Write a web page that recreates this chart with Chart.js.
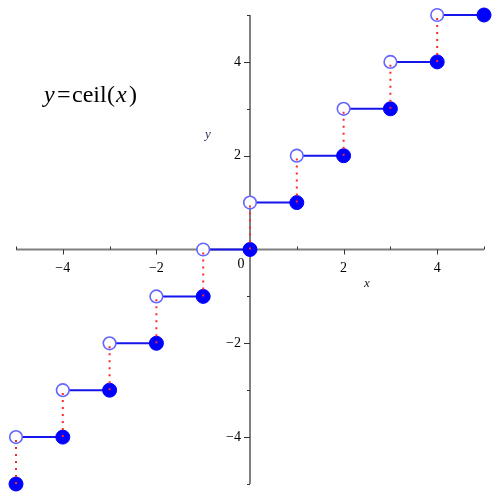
<!DOCTYPE html>
<html>
<head>
<meta charset="utf-8">
<script src="https://cdn.jsdelivr.net/npm/chart.js@4.4.0/dist/chart.umd.min.js"></script>
<style>
  html, body { margin: 0; padding: 0; background: #fff; }
  canvas { display: block; }
</style>
</head>
<body>
<canvas id="grafico" width="500" height="500"></canvas>
<script>
// ************************* DATOS *************************
// Puntos cerrados (valor incluido) de y = ceil(x)
const cerradosX = [-5, -4, -3, -2, -1, 0, 1, 2, 3, 4, 5];
const cerradosY = [-5, -4, -3, -2, -1, 0, 1, 2, 3, 4, 5];
// Puntos abiertos (valor excluido)
const abiertosX = [-5, -4, -3, -2, -1, 0, 1, 2, 3, 4];
const abiertosY = [-4, -3, -2, -1, 0, 1, 2, 3, 4, 5];
// Etiquetas de los ejes
const ticksX = [-4, -2, 0, 2, 4];
const ticksY = [-4, -2, 2, 4];
const marcasMenores = [-5, -3, -1, 1, 3, 5];

const AZUL = "rgb(20,20,235)";
const SERIF = "'Liberation Serif', 'DejaVu Serif', serif";

// ************************* DATASETS *************************
const datasets = [];

// Líneas rojas punteadas (encima de todo)
for (let i = 0; i < abiertosX.length; i++) {
  datasets.push({
    data: [
      { x: cerradosX[i], y: cerradosY[i] },
      { x: abiertosX[i], y: abiertosY[i] },
    ],
    showLine: true,
    clip: false,
    borderColor: "rgb(255,40,40)",
    borderWidth: 2,
    borderDash: [2, 5],
    pointRadius: 0,
  });
}

// Puntos cerrados
datasets.push({
  data: cerradosX.map((x, i) => ({ x: x, y: cerradosY[i] })),
  showLine: false,
  clip: false,
  pointRadius: 7,
  backgroundColor: "rgb(0,0,255)",
  borderColor: "rgb(0,0,255)",
  borderWidth: 1,
});

// Puntos abiertos
datasets.push({
  data: abiertosX.map((x, i) => ({ x: x, y: abiertosY[i] })),
  showLine: false,
  clip: false,
  pointRadius: 6.3,
  backgroundColor: "#ffffff",
  borderColor: "rgb(100,100,255)",
  borderWidth: 1.6,
});

// Escalones horizontales: del punto abierto i al cerrado i+1
for (let i = 0; i < abiertosX.length; i++) {
  datasets.push({
    data: [
      { x: abiertosX[i], y: abiertosY[i] },
      { x: cerradosX[i + 1], y: cerradosY[i + 1] },
    ],
    showLine: true,
    clip: false,
    borderColor: AZUL,
    borderWidth: 2,
    pointRadius: 0,
  });
}

// ************************* EJES *************************
const ejes = {
  id: "ejes",
  beforeDatasetsDraw(chart) {
    const ctx = chart.ctx;
    const sx = chart.scales.x;
    const sy = chart.scales.y;
    const x0 = sx.getPixelForValue(0);
    const y0 = sy.getPixelForValue(0);

    ctx.save();
    ctx.strokeStyle = "#808080";
    ctx.lineWidth = 2;
    ctx.beginPath();
    ctx.moveTo(sx.getPixelForValue(-5), y0);
    ctx.lineTo(sx.getPixelForValue(5), y0);
    ctx.moveTo(x0, sy.getPixelForValue(5));
    ctx.lineTo(x0, sy.getPixelForValue(-5));
    ctx.stroke();

    // marcas
    ctx.strokeStyle = "#333";
    ctx.lineWidth = 1;
    ctx.beginPath();
    ticksX.concat(marcasMenores).forEach(function (v) {
      if (v === 0) return;
      const px = Math.round(sx.getPixelForValue(v)) + 0.5;
      if (marcasMenores.includes(v)) {
        ctx.moveTo(px, y0 - 3);
        ctx.lineTo(px, y0);
      } else {
        ctx.moveTo(px, y0);
        ctx.lineTo(px, y0 + 5);
      }
    });
    ticksY.concat(marcasMenores).forEach(function (v) {
      const py = Math.round(sy.getPixelForValue(v)) + 0.5;
      if (marcasMenores.includes(v)) {
        ctx.moveTo(x0 - 3, py);
        ctx.lineTo(x0, py);
      } else {
        ctx.moveTo(x0 - 6, py);
        ctx.lineTo(x0, py);
      }
    });
    ctx.stroke();

    // etiquetas
    ctx.fillStyle = "#000";
    ctx.font = "14px " + SERIF;
    ctx.textBaseline = "middle";
    ctx.textAlign = "center";
    ticksX.forEach(function (v) {
      const txt = v < 0 ? "\u2212" + Math.abs(v) : String(v);
      if (v === 0) {
        ctx.fillText(txt, x0 - 9, y0 + 15);
      } else {
        ctx.fillText(txt, sx.getPixelForValue(v), y0 + 19);
      }
    });
    ctx.textAlign = "right";
    ticksY.forEach(function (v) {
      const txt = v < 0 ? "\u2212" + Math.abs(v) : String(v);
      ctx.fillText(txt, x0 - 9, sy.getPixelForValue(v));
    });

    // nombres de ejes
    ctx.font = "italic 13px " + SERIF;
    ctx.textAlign = "center";
    ctx.fillStyle = "#222";
    ctx.fillText("x", x0 + 117, y0 + 34);
    ctx.fillStyle = "#3a2a5a";
    ctx.fillText("y", x0 - 42, y0 - 115);
    ctx.restore();
  },
  afterDraw(chart) {
    const ctx = chart.ctx;
    ctx.save();
    ctx.fillStyle = "#000";
    ctx.textBaseline = "alphabetic";
    ctx.textAlign = "left";
    const base = 102;
    ctx.font = "italic 24px " + SERIF;
    ctx.fillText("y", 44, base);
    ctx.font = "24px " + SERIF;
    ctx.fillText("=", 57, base);
    ctx.fillText("ceil", 72, base);
    ctx.fillText("(", 107, base);
    ctx.font = "italic 24px " + SERIF;
    ctx.fillText("x", 116, base);
    ctx.font = "24px " + SERIF;
    ctx.fillText(")", 129, base);
    ctx.restore();
  },
};

// ************************* GRÁFICO *************************
new Chart(document.getElementById("grafico"), {
  type: "scatter",
  data: { datasets: datasets },
  options: {
    responsive: false,
    animation: false,
    layout: { padding: { left: 16, right: 16, top: 15, bottom: 16 } },
    plugins: { legend: { display: false }, tooltip: { enabled: false } },
    scales: {
      x: { type: "linear", min: -5, max: 5, display: false },
      y: { type: "linear", min: -5, max: 5, display: false },
    },
  },
  plugins: [ejes],
});
</script>
</body>
</html>
